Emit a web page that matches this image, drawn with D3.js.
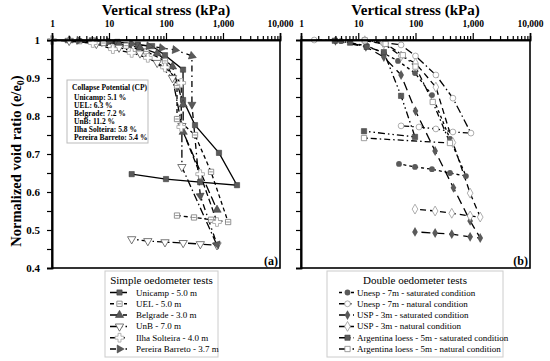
<!DOCTYPE html>
<html>
<head>
<meta charset="utf-8">
<script src="https://cdn.jsdelivr.net/npm/d3@7"></script>
<style>
  body { margin: 0; background: #fff; }
  svg text { font-family: "Liberation Serif", "DejaVu Serif", serif; }
</style>
</head>
<body>
<div id="chart"></div>
<script>
// ---- data (stress kPa, normalized void ratio e/e0) ----
var stressTicks = [1, 10, 100, 1000, 10000];
var stressLabels = ["1", "10", "100", "1,000", "10,000"];
var ratioTicks = [0.4, 0.5, 0.6, 0.7, 0.8, 0.9, 1];
var ratioLabels = ["0.4", "0.5", "0.6", "0.7", "0.8", "0.9", "1"];
var ratioMinor = [0.45, 0.55, 0.65, 0.75, 0.85, 0.95];

// simple oedometer tests
var unicamp = [[5,0.999],[14,0.995],[32,0.988],[57,0.984],[96,0.96],[199,0.922],[199,0.842],[323,0.776],[850,0.703],[1760,0.618],[397,0.626],[100,0.634],[25,0.647]];
var uel = [[3,0.997],[8,0.992],[20,0.985],[45,0.97],[96,0.945],[156,0.88],[156,0.792],[323,0.75],[617,0.653],[1230,0.521],[617,0.527],[310,0.533],[156,0.538]];
var belgrade = [[2,0.999],[6,0.996],[15,0.99],[35,0.98],[70,0.965],[130,0.93],[200,0.83],[200,0.758],[785,0.553]];
var unb = [[2,0.998],[6,0.99],[15,0.98],[35,0.965],[70,0.94],[130,0.9],[190,0.774],[190,0.666],[785,0.46],[400,0.463],[200,0.466],[96,0.468],[48,0.471],[25,0.476]];
var ilhaSolteira = [[1,1.0],[5.2,0.992],[11.7,0.976],[25,0.966],[48,0.953],[96,0.928],[185,0.887],[185,0.771],[397,0.647],[785,0.521]];
var pereiraBarreto = [[3,0.999],[10,0.996],[25,0.99],[50,0.984],[84,0.979],[144,0.974],[285,0.958],[285,0.83],[400,0.59],[785,0.462]];

// double oedometer tests
var unespSat = [[5,0.997],[14,0.985],[28,0.965],[49.5,0.945],[98,0.913],[194,0.855],[400,0.74],[760,0.642],[400,0.65],[194,0.66],[98,0.666],[51.5,0.674]];
var unespNat = [[1.7,1.0],[13,1.0],[27,0.993],[56,0.987],[100,0.958],[227,0.908],[450,0.847],[930,0.755],[450,0.758],[227,0.766],[115,0.771],[56,0.774]];
var uspSat = [[4,0.998],[13.6,0.982],[28,0.955],[56,0.908],[100,0.813],[220,0.708],[460,0.611],[900,0.524],[1350,0.479],[900,0.482],[430,0.489],[220,0.492],[98,0.495]];
var uspNat = [[13,0.998],[28,0.99],[56,0.958],[100,0.939],[227,0.876],[450,0.73],[900,0.597],[1350,0.534],[900,0.537],[430,0.544],[220,0.55],[98,0.555]];
var argSat = [[3.9,0.998],[7.2,0.993],[14,0.982],[28,0.968],[56,0.853],[98,0.745],[12.6,0.76]];
var argNat = [[13,0.999],[30,0.99],[60,0.96],[100,0.93],[200,0.837],[400,0.729],[12.6,0.742]];

var cpTitle = "Collapse Potential (CP)";
var cpLabels = ["Unicamp: 5.1 %", "UEL: 6.3 %", "Belgrade: 7.2 %", "UnB: 11.2 %", "Ilha Solteira: 5.8 %", "Pereira Barreto: 5.4 %"];

var simpleTitle = "Simple oedometer tests";
var simpleNames = ["Unicamp - 5.0 m", "UEL - 5.0 m", "Belgrade - 3.0 m", "UnB - 7.0 m", "Ilha Solteira - 4.0 m", "Pereira Barreto - 3.7 m"];
var doubleTitle = "Double oedometer tests";
var doubleNames = ["Unesp - 7m - saturated condition", "Unesp - 7m - natural condition", "USP - 3m - saturated condition", "USP - 3m - natural condition", "Argentina loess - 5m - saturated condition", "Argentina loess - 5m - natural condition"];

(function () {
    var serif = "'Liberation Serif', 'DejaVu Serif', serif";
    // series styles
    var simpleSeries = [
        {data: unicamp, dash: null, marker: "sqDark"},
        {data: uel, dash: "4,3", marker: "sqOpenLine"},
        {data: belgrade, dash: "9,4", marker: "triDark"},
        {data: unb, dash: "8,3,1.5,3", marker: "triDownOpen"},
        {data: ilhaSolteira, dash: "6,3", marker: "crossOpen"},
        {data: pereiraBarreto, dash: "6,4,1.5,4", marker: "arrow"}
    ];
    var doubleSeries = [
        {data: unespSat, dash: "3,3", marker: "circDark"},
        {data: unespNat, dash: "8,3,1.5,3", marker: "circOpen"},
        {data: uspSat, dash: "9,5", marker: "diaDark"},
        {data: uspNat, dash: "6,4", marker: "diaOpen"},
        {data: argSat, dash: "7,3,1.5,3,1.5,3", marker: "sqDark"},
        {data: argNat, dash: "6,3,1.5,3", marker: "sqOpen"}
    ];

    var W = 550, H = 361;
    var plotTop = 40, plotBottom = 268;
    var dark = "#5a5a5a";

    var svg = d3.select("#chart").append("svg")
        .attr("width", W)
        .attr("height", H);

    var y = d3.scaleLinear().domain([0.4, 1]).range([plotBottom, plotTop]);

    function drawMarker(g, type, cx, cy, angle) {
        var m = g.append("g").attr("transform", "translate(" + cx + "," + cy + ")");
        if (type == "sqDark") {
            m.append("path").attr("d", d3.symbol(d3.symbolSquare, 28)()).attr("fill", dark).attr("stroke", "#333").attr("stroke-width", 0.5);
        } else if (type == "sqOpen") {
            m.append("path").attr("d", d3.symbol(d3.symbolSquare, 28)()).attr("fill", "#fff").attr("stroke", "#888").attr("stroke-width", 0.8);
        } else if (type == "sqOpenLine") {
            m.append("path").attr("d", d3.symbol(d3.symbolSquare, 28)()).attr("fill", "#fff").attr("stroke", "#777").attr("stroke-width", 0.8);
            m.append("line").attr("x1", -1.8).attr("x2", 1.8).attr("stroke", "#777").attr("stroke-width", 0.8);
        } else if (type == "triDark") {
            m.append("path").attr("d", d3.symbol(d3.symbolTriangle, 30)()).attr("fill", dark).attr("stroke", "#333").attr("stroke-width", 0.5);
        } else if (type == "triDownOpen") {
            m.append("path").attr("d", d3.symbol(d3.symbolTriangle, 30)()).attr("transform", "rotate(180)")
                .attr("fill", "#fff").attr("stroke", "#555").attr("stroke-width", 0.8);
        } else if (type == "crossOpen") {
            m.append("path").attr("d", d3.symbol(d3.symbolCross, 42)()).attr("fill", "#fff").attr("stroke", "#aaa").attr("stroke-width", 0.9);
        } else if (type == "arrow") {
            m.append("path").attr("d", d3.symbol(d3.symbolTriangle, 28)()).attr("transform", "rotate(" + (angle + 90) + ")")
                .attr("fill", dark).attr("stroke", "#333").attr("stroke-width", 0.5);
        } else if (type == "circDark") {
            m.append("circle").attr("r", 2.9).attr("fill", dark);
        } else if (type == "circOpen") {
            m.append("circle").attr("r", 2.9).attr("fill", "#fff").attr("stroke", "#999").attr("stroke-width", 0.8);
        } else if (type == "diaDark") {
            m.append("path").attr("d", d3.symbol(d3.symbolDiamond, 28)()).attr("fill", dark);
        } else if (type == "diaOpen") {
            m.append("path").attr("d", d3.symbol(d3.symbolDiamond, 28)()).attr("fill", "#fff").attr("stroke", "#999").attr("stroke-width", 0.8);
        }
    }

    function panel(x0, x1, series, showLabels, tag) {
        var x = d3.scaleLog().domain([1, 10000]).range([x0, x1]);
        var g = svg.append("g");

        // title
        g.append("text")
            .attr("x", (x0 + x1) / 2)
            .attr("y", 15)
            .attr("text-anchor", "middle")
            .style("font-family", serif)
            .style("font-size", "15px")
            .style("font-weight", "bold")
            .text("Vertical stress (kPa)");

        // series
        var line = d3.line().x(function (d) { return x(d[0]); }).y(function (d) { return y(d[1]); });
        series.forEach(function (s) {
            g.append("path")
                .datum(s.data)
                .attr("fill", "none")
                .attr("stroke", "#000")
                .attr("stroke-width", 1.3)
                .attr("stroke-dasharray", s.dash)
                .attr("d", line);
        });
        series.forEach(function (s) {
            s.data.forEach(function (d, i) {
                var a = i > 0 ? s.data[i - 1] : s.data[0];
                var b = i > 0 ? d : s.data[1];
                var ang = Math.atan2(y(b[1]) - y(a[1]), x(b[0]) - x(a[0])) * 180 / Math.PI;
                drawMarker(g, s.marker, x(d[0]), y(d[1]), ang);
            });
        });

        // frame
        g.append("rect")
            .attr("x", x0).attr("y", plotTop)
            .attr("width", x1 - x0).attr("height", plotBottom - plotTop)
            .attr("fill", "none").attr("stroke", "#000").attr("stroke-width", 1.6);

        // top axis
        var minors = [];
        [1, 10, 100, 1000].forEach(function (dec) {
            for (var k = 2; k < 10; k++) minors.push(dec * k);
        });
        var ax = g.append("g").attr("transform", "translate(0," + plotTop + ")")
            .call(d3.axisTop(x).tickValues(stressTicks).tickSize(7).tickPadding(6)
                .tickFormat(function (d, i) { return stressLabels[i]; }));
        ax.selectAll("text").style("font-size", "9.5px").style("font-weight", "bold")
            .style("font-family", serif);
        var axm = g.append("g").attr("transform", "translate(0," + plotTop + ")")
            .call(d3.axisTop(x).tickValues(minors).tickSize(4).tickFormat(""));
        [ax, axm].forEach(function (a) {
            a.select(".domain").attr("stroke-width", 1.6);
            a.selectAll(".tick line").attr("stroke-width", 1.2);
        });

        // left axis
        var ay = g.append("g").attr("transform", "translate(" + x0 + ",0)")
            .call(d3.axisLeft(y).tickValues(ratioTicks).tickSize(5).tickPadding(7)
                .tickFormat(function (d, i) { return showLabels ? ratioLabels[i] : ""; }));
        ay.selectAll("text").style("font-size", "11px").style("font-weight", "bold")
            .style("font-family", serif);
        var aym = g.append("g").attr("transform", "translate(" + x0 + ",0)")
            .call(d3.axisLeft(y).tickValues(ratioMinor).tickSize(5).tickFormat(""));
        [ay, aym].forEach(function (a) {
            a.select(".domain").attr("stroke-width", 1.6);
            a.selectAll(".tick line").attr("stroke-width", 1.2);
        });

        g.append("text")
            .attr("x", x1 - 2).attr("y", plotBottom - 3)
            .attr("text-anchor", "end")
            .style("font-family", serif)
            .style("font-size", "12px").style("font-weight", "bold")
            .text(tag);
        return x;
    }

    panel(52, 280, simpleSeries, true, "(a)");
    panel(301, 530, doubleSeries, false, "(b)");

    // y label
    var yl = svg.append("text")
        .attr("transform", "translate(21,161) rotate(-90)")
        .attr("text-anchor", "middle")
        .style("font-family", serif)
        .style("font-size", "14.5px")
        .style("font-weight", "bold");
    yl.append("tspan").text("Normalized void ratio (e/e");
    yl.append("tspan").attr("dy", 3).style("font-size", "10px").text("0");
    yl.append("tspan").attr("dy", -3).text(")");

    // collapse potential box
    svg.append("rect")
        .attr("x", 67).attr("y", 80).attr("width", 81).attr("height", 63)
        .attr("fill", "#fff").attr("stroke", "#bbb").attr("stroke-width", 1);
    svg.append("text")
        .attr("x", 72).attr("y", 90)
        .style("font-family", serif)
        .style("font-size", "7.5px").style("font-weight", "bold")
        .text(cpTitle);
    cpLabels.forEach(function (t, i) {
        svg.append("text")
            .attr("x", 74).attr("y", 100 + i * 8)
            .style("font-family", serif)
            .style("font-size", "7.5px").style("font-weight", "bold")
            .text(t);
    });

    // legends
    function legend(bx, bw, title, names, series, sx0, sx1, tx) {
        svg.append("rect")
            .attr("x", bx).attr("y", 271).attr("width", bw).attr("height", 86)
            .attr("fill", "#fff").attr("stroke", "#ccc").attr("stroke-width", 1);
        svg.append("text")
            .attr("x", bx + bw / 2).attr("y", 284)
            .attr("text-anchor", "middle")
            .style("font-family", serif)
            .style("font-size", "11px")
            .text(title);
        names.forEach(function (n, i) {
            var cy = 292.5 + i * 11.3;
            var s = series[i];
            svg.append("line")
                .attr("x1", sx0).attr("x2", sx1).attr("y1", cy).attr("y2", cy)
                .attr("stroke", "#000").attr("stroke-width", 1.5)
                .attr("stroke-dasharray", s.dash);
            drawMarker(svg, s.marker, (sx0 + sx1) / 2 + 1, cy, 0);
            svg.append("text")
                .attr("x", tx).attr("y", cy + 3)
                .style("font-family", serif)
                .style("font-size", "9px")
                .text(n);
        });
    }
    legend(105, 113, simpleTitle, simpleNames, simpleSeries, 110, 127, 136);
    legend(327, 176, doubleTitle, doubleNames, doubleSeries, 339, 354, 357);
})();
</script>
</body>
</html>
